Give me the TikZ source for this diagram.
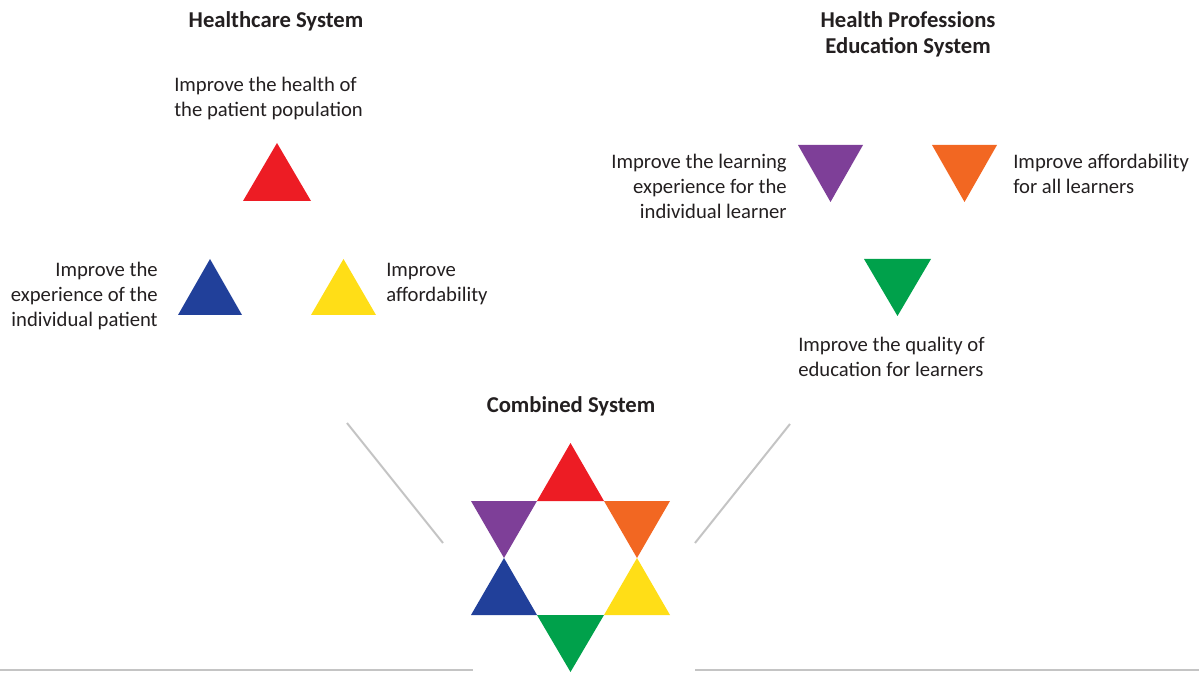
\documentclass[tikz,border=0pt]{standalone}
\usepackage{fontspec}
\setmainfont{Carlito}
\definecolor{cred}{HTML}{ED1C24}
\definecolor{cblue}{HTML}{21409A}
\definecolor{cyellow}{HTML}{FFDE17}
\definecolor{cpurple}{HTML}{7E3F98}
\definecolor{corange}{HTML}{F26722}
\definecolor{cgreen}{HTML}{00A14B}
\definecolor{ctext}{HTML}{231F20}
\definecolor{cline}{HTML}{C4C4C4}
\begin{document}
\begin{tikzpicture}[x=0.75pt,y=-0.75pt,
  body/.style={inner sep=0pt,text=ctext,font=\fontsize{15.5}{18.75}\selectfont},
  title/.style={inner sep=0pt,text=ctext,align=center,font=\fontsize{17}{19.5}\selectfont\bfseries},
  guide/.style={draw=cline,line width=1.5pt}]
\useasboundingbox (0,0) rectangle (1199,673);
% Healthcare system
\node[title,anchor=base] (hct) at (276,28) {Healthcare System};
\node[body,align=left,anchor=base west] (hcpop) at (174,116.5) {Improve the health of\\the patient population};
\node[body,align=right,anchor=base east] (hcexp) at (158,326.5) {Improve the\\experience of the\\individual patient};
\node[body,align=left,anchor=base west] (hcaff) at (386,301.5) {Improve\\affordability};
\fill[cred] (277,143) -- (311,201) -- (243,201) -- cycle;
\fill[cblue] (210,259) -- (242,315) -- (178,315) -- cycle;
\fill[cyellow] (343.5,259) -- (376,315) -- (311,315) -- cycle;
% Education system
\node[title,anchor=base] (hpt) at (908,54) {Health Professions\\Education System};
\node[body,align=right,anchor=base east] (edexp) at (787,218.5) {Improve the learning\\experience for the\\individual learner};
\node[body,align=left,anchor=base west] (edaff) at (1013,193.5) {Improve affordability\\for all learners};
\node[body,align=left,anchor=base west] (edqual) at (798,376.5) {Improve the quality of\\education for learners};
\fill[cpurple] (798,145) -- (863,145) -- (830.5,202) -- cycle;
\fill[corange] (932,145) -- (997,145) -- (964.5,202) -- cycle;
\fill[cgreen] (864,259) -- (931,259) -- (897.5,316) -- cycle;
% Combined system
\node[title,anchor=base] (cst) at (571,412) {Combined System};
\fill[cred] (570.5,443) -- (604,501) -- (537,501) -- cycle;
\fill[cpurple] (471,501) -- (537,501) -- (504,558) -- cycle;
\fill[corange] (604,501) -- (670,501) -- (637,558) -- cycle;
\fill[cblue] (504,558) -- (537,615) -- (471,615) -- cycle;
\fill[cyellow] (637,558) -- (670,615) -- (604,615) -- cycle;
\fill[cgreen] (537,615) -- (604,615) -- (570.5,672) -- cycle;
% guide lines
\coordinate (l1) at (347,423); \coordinate (l2) at (443,543);
\coordinate (r1) at (790,424); \coordinate (r2) at (695,543);
\coordinate (b1) at (0,670); \coordinate (b2) at (473,670);
\coordinate (b3) at (695,670); \coordinate (b4) at (1199,670);
\draw[guide] (l1) -- (l2);
\draw[guide] (r1) -- (r2);
\draw[guide] (b1) -- (b2);
\draw[guide] (b3) -- (b4);
\end{tikzpicture}
\end{document}
